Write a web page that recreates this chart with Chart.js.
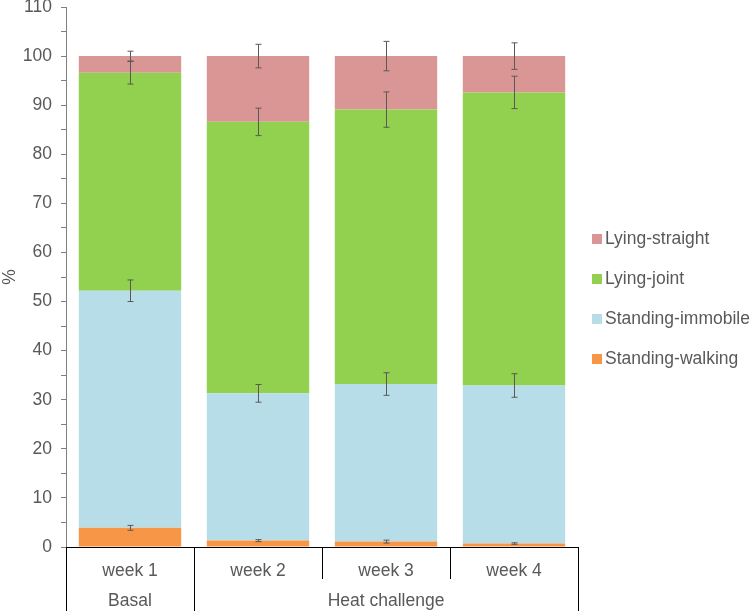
<!DOCTYPE html>
<html>
<head>
<meta charset="utf-8">
<script src="https://cdn.jsdelivr.net/npm/chart.js@4"></script>
<style>
  html, body { margin: 0; padding: 0; background: #fff; }
  #wrap { width: 750px; height: 611px; }
</style>
</head>
<body>
<div id="wrap"><canvas id="chart" width="750" height="611"></canvas></div>
<script>
// categories
const weeks = ["week 1", "week 2", "week 3", "week 4"];
const groupNames = ["Basal", "Heat challenge"];
const groupSpans = [1, 3];

// series values (% of time), bottom to top of the stack
const standingWalking = [3.9, 1.3, 1.1, 0.7];
const standingImmobile = [48.3, 30.0, 32.1, 32.2];
const lyingJoint = [44.4, 55.3, 55.9, 59.7];
const lyingStraight = [3.4, 13.4, 10.9, 7.4];

// error bar half-lengths
const walkingErr = [0.5, 0.2, 0.3, 0.15];
const immobileErr = [2.2, 1.8, 2.3, 2.4];
const jointErr = [2.3, 2.8, 3.6, 3.3];
const straightErr = [1.0, 2.4, 3.0, 2.7];

const textColor = "#595959";
const fontFamily = "'Liberation Sans', Arial, sans-serif";
const fontSize = 17.5;

// Draw error bars at the top of each stacked segment
const errorBars = {
    id: "errorBars",
    afterDatasetsDraw(chart) {
        const ctx = chart.ctx;
        const y = chart.scales.y;
        const cumulative = weeks.map(() => 0);
        ctx.save();
        ctx.strokeStyle = "#595959";
        ctx.lineWidth = 1;
        chart.data.datasets.forEach((ds, i) => {
            const meta = chart.getDatasetMeta(i);
            ds.data.forEach((v, j) => {
                cumulative[j] += v;
                const x = Math.round(meta.data[j].x) + 0.5;
                const hi = y.getPixelForValue(cumulative[j] + ds.err[j]);
                const lo = y.getPixelForValue(cumulative[j] - ds.err[j]);
                ctx.beginPath();
                ctx.moveTo(x, hi);
                ctx.lineTo(x, lo);
                ctx.moveTo(x - 3, hi);
                ctx.lineTo(x + 3, hi);
                ctx.moveTo(x - 3, lo);
                ctx.lineTo(x + 3, lo);
                ctx.stroke();
            });
        });
        ctx.restore();
    }
};

// Draw the two-level category axis and the legend
const axisAndLegend = {
    id: "axisAndLegend",
    afterDraw(chart) {
        const ctx = chart.ctx;
        const area = chart.chartArea;
        const step = (area.right - area.left) / weeks.length;
        const bottom = chart.height;
        const midLine = area.bottom + 32;

        ctx.save();
        ctx.strokeStyle = "#000";
        ctx.lineWidth = 1;

        // boundaries between weeks and between groups
        const groupEdges = [0];
        groupSpans.forEach((s) => groupEdges.push(groupEdges[groupEdges.length - 1] + s));
        for (let k = 0; k <= weeks.length; k++) {
            const px = Math.round(area.left + k * step) + 0.5;
            const end = groupEdges.includes(k) ? bottom : midLine;
            ctx.beginPath();
            ctx.moveTo(px, area.bottom);
            ctx.lineTo(px, end);
            ctx.stroke();
        }

        // group labels
        ctx.fillStyle = textColor;
        ctx.font = fontSize + "px " + fontFamily;
        ctx.textAlign = "center";
        ctx.textBaseline = "middle";
        groupNames.forEach((name, g) => {
            const cx = area.left + (groupEdges[g] + groupEdges[g + 1]) / 2 * step;
            ctx.fillText(name, cx, area.bottom + 54);
        });

        // legend, top series first
        ctx.textAlign = "left";
        const items = chart.data.datasets.slice().reverse();
        items.forEach((ds, k) => {
            const cy = area.top + 232 + k * 40;
            ctx.fillStyle = ds.backgroundColor;
            ctx.fillRect(area.right + 14, cy - 5, 10, 10);
            ctx.fillStyle = textColor;
            ctx.fillText(ds.label, area.right + 27, cy);
        });
        ctx.restore();
    }
};

const ctx = document.getElementById("chart").getContext("2d");
new Chart(ctx, {
    type: "bar",
    data: {
        labels: weeks,
        datasets: [
            { label: "Standing-walking", data: standingWalking, err: walkingErr, backgroundColor: "#F79646" },
            { label: "Standing-immobile", data: standingImmobile, err: immobileErr, backgroundColor: "#B7DEE8" },
            { label: "Lying-joint", data: lyingJoint, err: jointErr, backgroundColor: "#92D050" },
            { label: "Lying-straight", data: lyingStraight, err: straightErr, backgroundColor: "#D99694" }
        ]
    },
    options: {
        responsive: false,
        animation: false,
        barPercentage: 0.8,
        categoryPercentage: 1.0,
        layout: { padding: { top: 7, right: 172, left: 0, bottom: 0 } },
        plugins: {
            legend: { display: false },
            tooltip: { enabled: false }
        },
        scales: {
            x: {
                stacked: true,
                grid: { display: false, drawTicks: false },
                border: { display: true, color: "#000", width: 1 },
                ticks: {
                    color: textColor,
                    font: { family: fontFamily, size: fontSize },
                    padding: 14,
                    maxRotation: 0
                },
                afterFit(scale) { scale.height = 64; }
            },
            y: {
                stacked: true,
                min: 0,
                max: 110,
                grid: { drawOnChartArea: false, drawTicks: true, tickLength: 5, color: "#7f7f7f" },
                border: { display: true, color: "#7f7f7f", width: 1 },
                ticks: {
                    stepSize: 5,
                    autoSkip: false,
                    color: textColor,
                    font: { family: fontFamily, size: fontSize },
                    padding: 9,
                    callback: (v) => (v % 10 === 0 ? v : "")
                },
                title: {
                    display: true,
                    text: "%",
                    color: textColor,
                    font: { family: fontFamily, size: fontSize },
                    padding: 0
                },
                afterFit(scale) {
                    scale.width = 66;
                    scale.paddingTop = 0;
                    scale.paddingBottom = 0;
                }
            }
        }
    },
    plugins: [errorBars, axisAndLegend]
});
</script>
</body>
</html>
